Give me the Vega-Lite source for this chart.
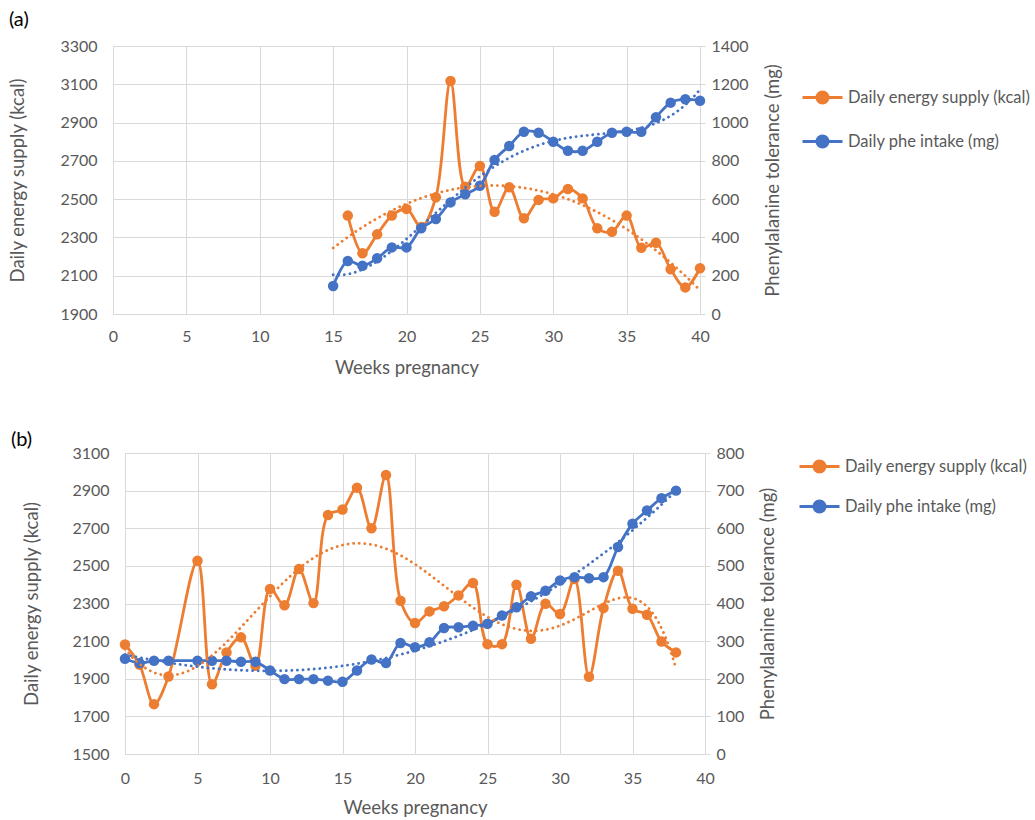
{
  "$schema": "https://vega.github.io/schema/vega-lite/v6.json",
  "background": "white",
  "padding": {"left": 8, "top": 10, "right": 5, "bottom": 5},
  "config": {
    "font": "Lato",
    "view": {"stroke": null},
    "axis": {"labelColor": "#595959", "titleColor": "#595959", "labelFontSize": 16, "titleFontSize": 18.5, "titleFontWeight": "normal", "gridColor": "#d9d9d9", "domainColor": "#d9d9d9", "tickColor": "#d9d9d9", "labelFont": "Lato", "titleFont": "Lato", "format": "d", "labelFlush": false},
    "legend": {"labelColor": "#595959", "labelFontSize": 16.5, "labelFont": "Lato", "labelLimit": 400},
    "title": {"font": "Lato", "fontSize": 20, "fontWeight": "normal", "color": "#000000"}
  },
  "data": {"values": [
    {"p":"a","w":16,"s":"E","v":2414},{"p":"a","w":17,"s":"E","v":2217},{"p":"a","w":18,"s":"E","v":2316},{"p":"a","w":19,"s":"E","v":2414},{"p":"a","w":20,"s":"E","v":2449},{"p":"a","w":21,"s":"E","v":2355},{"p":"a","w":22,"s":"E","v":2510},{"p":"a","w":23,"s":"E","v":3117},{"p":"a","w":24,"s":"E","v":2565},{"p":"a","w":25,"s":"E","v":2673},{"p":"a","w":26,"s":"E","v":2434},{"p":"a","w":27,"s":"E","v":2562},{"p":"a","w":28,"s":"E","v":2400},{"p":"a","w":29,"s":"E","v":2496},{"p":"a","w":30,"s":"E","v":2504},{"p":"a","w":31,"s":"E","v":2553},{"p":"a","w":32,"s":"E","v":2504},{"p":"a","w":33,"s":"E","v":2348},{"p":"a","w":34,"s":"E","v":2330},{"p":"a","w":35,"s":"E","v":2414},{"p":"a","w":36,"s":"E","v":2246},{"p":"a","w":37,"s":"E","v":2272},{"p":"a","w":38,"s":"E","v":2134},{"p":"a","w":39,"s":"E","v":2039},{"p":"a","w":40,"s":"E","v":2139},
    {"p":"a","w":15,"s":"P","v":146},{"p":"a","w":16,"s":"P","v":277},{"p":"a","w":17,"s":"P","v":252},{"p":"a","w":18,"s":"P","v":291},{"p":"a","w":19,"s":"P","v":348},{"p":"a","w":20,"s":"P","v":348},{"p":"a","w":21,"s":"P","v":448},{"p":"a","w":22,"s":"P","v":496},{"p":"a","w":23,"s":"P","v":583},{"p":"a","w":24,"s":"P","v":625},{"p":"a","w":25,"s":"P","v":670},{"p":"a","w":26,"s":"P","v":805},{"p":"a","w":27,"s":"P","v":878},{"p":"a","w":28,"s":"P","v":952},{"p":"a","w":29,"s":"P","v":947},{"p":"a","w":30,"s":"P","v":900},{"p":"a","w":31,"s":"P","v":853},{"p":"a","w":32,"s":"P","v":853},{"p":"a","w":33,"s":"P","v":900},{"p":"a","w":34,"s":"P","v":947},{"p":"a","w":35,"s":"P","v":952},{"p":"a","w":36,"s":"P","v":952},{"p":"a","w":37,"s":"P","v":1028},{"p":"a","w":38,"s":"P","v":1104},{"p":"a","w":39,"s":"P","v":1122},{"p":"a","w":40,"s":"P","v":1114},
    {"p":"b","w":0,"s":"E","v":2082},{"p":"b","w":1,"s":"E","v":1975},{"p":"b","w":2,"s":"E","v":1765},{"p":"b","w":3,"s":"E","v":1912},{"p":"b","w":5,"s":"E","v":2527},{"p":"b","w":6,"s":"E","v":1871},{"p":"b","w":7,"s":"E","v":2040},{"p":"b","w":8,"s":"E","v":2120},{"p":"b","w":9,"s":"E","v":1969},{"p":"b","w":10,"s":"E","v":2377},{"p":"b","w":11,"s":"E","v":2291},{"p":"b","w":12,"s":"E","v":2483},{"p":"b","w":13,"s":"E","v":2302},{"p":"b","w":14,"s":"E","v":2770},{"p":"b","w":15,"s":"E","v":2800},{"p":"b","w":16,"s":"E","v":2915},{"p":"b","w":17,"s":"E","v":2700},{"p":"b","w":18,"s":"E","v":2983},{"p":"b","w":19,"s":"E","v":2315},{"p":"b","w":20,"s":"E","v":2196},{"p":"b","w":21,"s":"E","v":2258},{"p":"b","w":22,"s":"E","v":2285},{"p":"b","w":23,"s":"E","v":2343},{"p":"b","w":24,"s":"E","v":2409},{"p":"b","w":25,"s":"E","v":2084},{"p":"b","w":26,"s":"E","v":2084},{"p":"b","w":27,"s":"E","v":2400},{"p":"b","w":28,"s":"E","v":2113},{"p":"b","w":29,"s":"E","v":2299},{"p":"b","w":30,"s":"E","v":2244},{"p":"b","w":31,"s":"E","v":2430},{"p":"b","w":32,"s":"E","v":1911},{"p":"b","w":33,"s":"E","v":2276},{"p":"b","w":34,"s":"E","v":2474},{"p":"b","w":35,"s":"E","v":2272},{"p":"b","w":36,"s":"E","v":2240},{"p":"b","w":37,"s":"E","v":2098},{"p":"b","w":38,"s":"E","v":2040},
    {"p":"b","w":0,"s":"P","v":253},{"p":"b","w":1,"s":"P","v":242},{"p":"b","w":2,"s":"P","v":248},{"p":"b","w":3,"s":"P","v":248},{"p":"b","w":5,"s":"P","v":248},{"p":"b","w":6,"s":"P","v":248},{"p":"b","w":7,"s":"P","v":248},{"p":"b","w":8,"s":"P","v":245},{"p":"b","w":9,"s":"P","v":245},{"p":"b","w":10,"s":"P","v":222},{"p":"b","w":11,"s":"P","v":199},{"p":"b","w":12,"s":"P","v":199},{"p":"b","w":13,"s":"P","v":199},{"p":"b","w":14,"s":"P","v":195},{"p":"b","w":15,"s":"P","v":192},{"p":"b","w":16,"s":"P","v":222},{"p":"b","w":17,"s":"P","v":251},{"p":"b","w":18,"s":"P","v":242},{"p":"b","w":19,"s":"P","v":295},{"p":"b","w":20,"s":"P","v":284},{"p":"b","w":21,"s":"P","v":297},{"p":"b","w":22,"s":"P","v":335},{"p":"b","w":23,"s":"P","v":337},{"p":"b","w":24,"s":"P","v":341},{"p":"b","w":25,"s":"P","v":346},{"p":"b","w":26,"s":"P","v":368},{"p":"b","w":27,"s":"P","v":390},{"p":"b","w":28,"s":"P","v":419},{"p":"b","w":29,"s":"P","v":434},{"p":"b","w":30,"s":"P","v":461},{"p":"b","w":31,"s":"P","v":470},{"p":"b","w":32,"s":"P","v":467},{"p":"b","w":33,"s":"P","v":470},{"p":"b","w":34,"s":"P","v":550},{"p":"b","w":35,"s":"P","v":612},{"p":"b","w":36,"s":"P","v":647},{"p":"b","w":37,"s":"P","v":680},{"p":"b","w":38,"s":"P","v":700}
  ]},
  "spacing": 53,
  "resolve": {"scale": {"color": "independent"}, "legend": {"color": "independent"}},
  "vconcat": [
    {
      "title": {"text": "(a)", "anchor": "start", "frame": "bounds", "offset": 8},
      "width": 587, "height": 268,
      "transform": [{"filter": "datum.p === 'a'"}, {"calculate": "datum.s === 'E' ? 'Daily energy supply (kcal)' : 'Daily phe intake (mg)'", "as": "series"}],
      "resolve": {"scale": {"y": "independent"}},
      "encoding": {
        "x": {"field": "w", "type": "quantitative", "scale": {"domain": [0, 40], "nice": false}, "axis": {"title": "Weeks pregnancy", "values": [0,5,10,15,20,25,30,35,40], "ticks": false, "labelPadding": 14, "titlePadding": 14, "grid": true}}
      },
      "layer": [
        {
          "transform": [{"filter": "datum.s === 'E'"}],
          "mark": {"type": "line", "interpolate": "catmull-rom", "strokeWidth": 2.8, "point": {"filled": true, "size": 110}},
          "encoding": {
            "y": {"field": "v", "type": "quantitative", "scale": {"domain": [1900, 3300], "nice": false, "zero": false}, "axis": {"title": "Daily energy supply (kcal)", "values": [1900,2100,2300,2500,2700,2900,3100,3300], "ticks": false, "labelPadding": 16, "titlePadding": 32, "grid": true, "domain": true}},
            "color": {"field": "series", "type": "nominal", "scale": {"domain": ["Daily energy supply (kcal)", "Daily phe intake (mg)"], "range": ["#ED7D31", "#4472C4"]},
              "legend": {"title": null, "orient": "none", "legendX": 688, "legendY": 30, "symbolType": "M-1,0H1M-0.28,0A0.28,0.28,0,1,1,0.28,0A0.28,0.28,0,1,1,-0.28,0", "symbolSize": 1600, "symbolStrokeWidth": 2.8, "symbolFillColor": null, "rowPadding": 11, "labelOffset": 4}}
          }
        },
        {
          "transform": [{"filter": "datum.s === 'P'"}],
          "mark": {"type": "line", "interpolate": "catmull-rom", "strokeWidth": 2.8, "point": {"filled": true, "size": 110}},
          "encoding": {
            "y": {"field": "v", "type": "quantitative", "scale": {"domain": [0, 1400], "nice": false}, "axis": {"orient": "right", "title": "Phenylalanine tolerance (mg)", "titleAngle": 270, "values": [0,200,400,600,800,1000,1200,1400], "ticks": true, "tickSize": 5, "labelPadding": 6, "titlePadding": 34, "grid": false}},
            "color": {"field": "series", "type": "nominal"}
          }
        },
        {
          "transform": [{"filter": "datum.s === 'E'"}, {"regression": "v", "on": "w", "method": "poly", "order": 2, "extent": [15, 40]}],
          "mark": {"type": "line", "strokeWidth": 2.8, "strokeDash": [0.1, 5.5], "strokeCap": "round", "color": "#ED7D31"},
          "encoding": {
            "y": {"field": "v", "type": "quantitative", "scale": {"domain": [1900, 3300], "nice": false, "zero": false}, "axis": null}
          }
        },
        {
          "transform": [{"filter": "datum.s === 'P'"}, {"regression": "v", "on": "w", "method": "poly", "order": 4, "extent": [15, 40]}],
          "mark": {"type": "line", "strokeWidth": 2.8, "strokeDash": [0.1, 5.5], "strokeCap": "round", "color": "#4472C4"},
          "encoding": {
            "y": {"field": "v", "type": "quantitative", "scale": {"domain": [0, 1400], "nice": false}, "axis": null}
          }
        }
      ]
    },
    {
      "title": {"text": "(b)", "anchor": "start", "frame": "bounds", "offset": -5, "dx": -12},
      "width": 592, "height": 301,
      "transform": [{"filter": "datum.p === 'b'"}, {"calculate": "datum.s === 'E' ? 'Daily energy supply (kcal)' : 'Daily phe intake (mg)'", "as": "series"}],
      "resolve": {"scale": {"y": "independent"}},
      "encoding": {
        "x": {"field": "w", "type": "quantitative", "scale": {"domain": [0, 40], "nice": false, "range": [12, 592]}, "axis": {"title": "Weeks pregnancy", "values": [0,5,10,15,20,25,30,35,40], "ticks": false, "labelPadding": 16, "titlePadding": 12, "grid": true}}
      },
      "layer": [
        {
          "transform": [{"filter": "datum.s === 'E'"}],
          "mark": {"type": "line", "interpolate": "catmull-rom", "strokeWidth": 2.8, "point": {"filled": true, "size": 110}},
          "encoding": {
            "y": {"field": "v", "type": "quantitative", "scale": {"domain": [1500, 3100], "nice": false, "zero": false}, "axis": {"title": "Daily energy supply (kcal)", "values": [1500,1700,1900,2100,2300,2500,2700,2900,3100], "ticks": false, "labelPadding": 16, "titlePadding": 30, "grid": true, "domain": true, "offset": -12}},
            "color": {"field": "series", "type": "nominal", "scale": {"domain": ["Daily energy supply (kcal)", "Daily phe intake (mg)"], "range": ["#ED7D31", "#4472C4"]},
              "legend": {"title": null, "orient": "none", "legendX": 685, "legendY": -8, "symbolType": "M-1,0H1M-0.28,0A0.28,0.28,0,1,1,0.28,0A0.28,0.28,0,1,1,-0.28,0", "symbolSize": 1600, "symbolStrokeWidth": 2.8, "symbolFillColor": null, "rowPadding": 7, "labelOffset": 4}}
          }
        },
        {
          "transform": [{"filter": "datum.s === 'P'"}],
          "mark": {"type": "line", "interpolate": "catmull-rom", "strokeWidth": 2.8, "point": {"filled": true, "size": 110}},
          "encoding": {
            "y": {"field": "v", "type": "quantitative", "scale": {"domain": [0, 800], "nice": false}, "axis": {"orient": "right", "title": "Phenylalanine tolerance (mg)", "titleAngle": 270, "values": [0,100,200,300,400,500,600,700,800], "ticks": true, "tickSize": 5, "labelPadding": 6, "titlePadding": 34, "grid": false}},
            "color": {"field": "series", "type": "nominal"}
          }
        },
        {
          "transform": [{"filter": "datum.s === 'E'"}, {"regression": "v", "on": "w", "method": "poly", "order": 6, "extent": [0, 38]}],
          "mark": {"type": "line", "strokeWidth": 2.8, "strokeDash": [0.1, 5.5], "strokeCap": "round", "color": "#ED7D31"},
          "encoding": {
            "y": {"field": "v", "type": "quantitative", "scale": {"domain": [1500, 3100], "nice": false, "zero": false}, "axis": null}
          }
        },
        {
          "transform": [{"filter": "datum.s === 'P'"}, {"regression": "v", "on": "w", "method": "poly", "order": 3, "extent": [0, 38]}],
          "mark": {"type": "line", "strokeWidth": 2.8, "strokeDash": [0.1, 5.5], "strokeCap": "round", "color": "#4472C4"},
          "encoding": {
            "y": {"field": "v", "type": "quantitative", "scale": {"domain": [0, 800], "nice": false}, "axis": null}
          }
        }
      ]
    }
  ]
}
